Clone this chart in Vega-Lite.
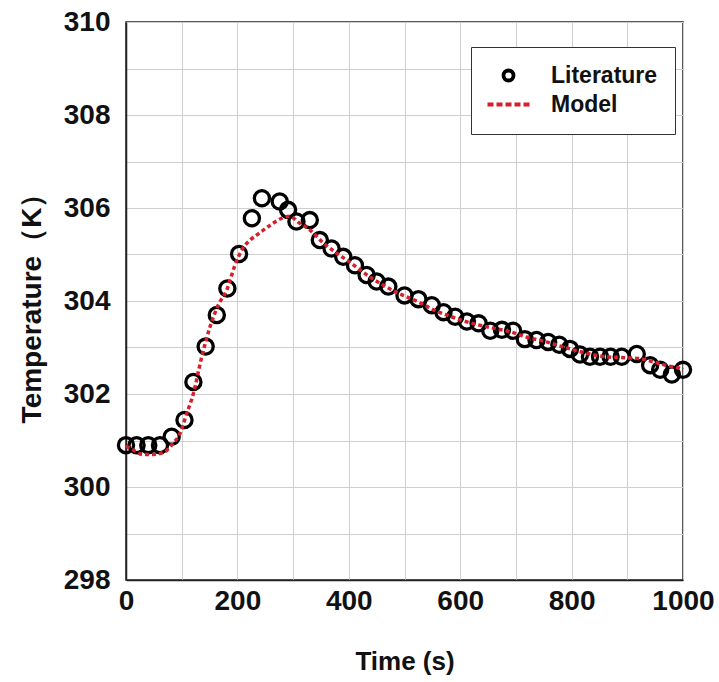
{
  "$schema": "https://vega.github.io/schema/vega-lite/v6.json",
  "width": 557,
  "height": 558,
  "autosize": "none",
  "padding": {"left": 126, "top": 22, "right": 36, "bottom": 102},
  "background": "white",
  "config": {
    "font": "Liberation Sans",
    "view": {"stroke": "#222", "strokeWidth": 1.5},
    "axis": {
      "labelFont": "Liberation Sans",
      "labelFontWeight": "bold",
      "labelFontSize": 28,
      "labelColor": "#111",
      "titleFont": "Liberation Sans",
      "titleFontWeight": "bold",
      "titleFontSize": 26,
      "titleColor": "#111",
      "gridColor": "#cfcfcf",
      "gridWidth": 1,
      "gridOpacity": 1,
      "ticks": false,
      "domainColor": "#222",
      "domainWidth": 1.5
    },
    "legend": {
      "labelFont": "Liberation Sans",
      "labelFontWeight": "bold",
      "labelFontSize": 23,
      "labelColor": "#111"
    }
  },
  "datasets": {
    "literature": [
      {"series": "Literature", "t": 0, "T": 300.90}, {"series": "Literature", "t": 19, "T": 300.90},
      {"series": "Literature", "t": 40, "T": 300.90}, {"series": "Literature", "t": 61, "T": 300.90},
      {"series": "Literature", "t": 82, "T": 301.08}, {"series": "Literature", "t": 105, "T": 301.44},
      {"series": "Literature", "t": 121, "T": 302.26}, {"series": "Literature", "t": 143, "T": 303.02},
      {"series": "Literature", "t": 163, "T": 303.70}, {"series": "Literature", "t": 182, "T": 304.27},
      {"series": "Literature", "t": 203, "T": 305.01}, {"series": "Literature", "t": 226, "T": 305.78},
      {"series": "Literature", "t": 244, "T": 306.21}, {"series": "Literature", "t": 276, "T": 306.14},
      {"series": "Literature", "t": 291, "T": 305.96}, {"series": "Literature", "t": 306, "T": 305.71},
      {"series": "Literature", "t": 330, "T": 305.74}, {"series": "Literature", "t": 348, "T": 305.31},
      {"series": "Literature", "t": 369, "T": 305.13}, {"series": "Literature", "t": 390, "T": 304.95},
      {"series": "Literature", "t": 411, "T": 304.77}, {"series": "Literature", "t": 432, "T": 304.56},
      {"series": "Literature", "t": 450, "T": 304.42}, {"series": "Literature", "t": 471, "T": 304.31},
      {"series": "Literature", "t": 500, "T": 304.12}, {"series": "Literature", "t": 525, "T": 304.04},
      {"series": "Literature", "t": 549, "T": 303.91}, {"series": "Literature", "t": 570, "T": 303.76},
      {"series": "Literature", "t": 591, "T": 303.66}, {"series": "Literature", "t": 612, "T": 303.56},
      {"series": "Literature", "t": 633, "T": 303.52}, {"series": "Literature", "t": 654, "T": 303.36},
      {"series": "Literature", "t": 675, "T": 303.38}, {"series": "Literature", "t": 695, "T": 303.36},
      {"series": "Literature", "t": 716, "T": 303.18}, {"series": "Literature", "t": 737, "T": 303.16},
      {"series": "Literature", "t": 758, "T": 303.12}, {"series": "Literature", "t": 778, "T": 303.06},
      {"series": "Literature", "t": 797, "T": 302.97}, {"series": "Literature", "t": 815, "T": 302.85},
      {"series": "Literature", "t": 833, "T": 302.80}, {"series": "Literature", "t": 851, "T": 302.80},
      {"series": "Literature", "t": 870, "T": 302.80}, {"series": "Literature", "t": 890, "T": 302.80},
      {"series": "Literature", "t": 917, "T": 302.86}, {"series": "Literature", "t": 941, "T": 302.62},
      {"series": "Literature", "t": 959, "T": 302.52}, {"series": "Literature", "t": 980, "T": 302.42},
      {"series": "Literature", "t": 1000, "T": 302.52}
    ],
    "model": [
      {"t": 0, "T": 300.88}, {"t": 15, "T": 300.78}, {"t": 30, "T": 300.70}, {"t": 50, "T": 300.70},
      {"t": 70, "T": 300.76}, {"t": 85, "T": 300.95}, {"t": 95, "T": 301.10}, {"t": 109, "T": 301.58},
      {"t": 121, "T": 302.01}, {"t": 135, "T": 302.75}, {"t": 151, "T": 303.45}, {"t": 165, "T": 303.90},
      {"t": 181, "T": 304.24}, {"t": 195, "T": 304.75}, {"t": 208, "T": 305.10}, {"t": 222, "T": 305.30},
      {"t": 235, "T": 305.42}, {"t": 259, "T": 305.63}, {"t": 280, "T": 305.78}, {"t": 294, "T": 305.82},
      {"t": 312, "T": 305.67}, {"t": 330, "T": 305.53}, {"t": 354, "T": 305.25}, {"t": 378, "T": 305.03},
      {"t": 400, "T": 304.85}, {"t": 420, "T": 304.67}, {"t": 440, "T": 304.50}, {"t": 462, "T": 304.34},
      {"t": 483, "T": 304.20}, {"t": 504, "T": 304.09}, {"t": 530, "T": 303.95}, {"t": 552, "T": 303.81},
      {"t": 580, "T": 303.68}, {"t": 612, "T": 303.55}, {"t": 650, "T": 303.44}, {"t": 689, "T": 303.34},
      {"t": 720, "T": 303.22}, {"t": 755, "T": 303.12}, {"t": 780, "T": 303.03}, {"t": 803, "T": 302.95},
      {"t": 833, "T": 302.86}, {"t": 863, "T": 302.80}, {"t": 893, "T": 302.78}, {"t": 923, "T": 302.76},
      {"t": 950, "T": 302.68}, {"t": 975, "T": 302.60}, {"t": 995, "T": 302.55}, {"t": 1000, "T": 302.52}
    ]
  },
  "encoding": {
    "x": {
      "field": "t",
      "type": "quantitative",
      "scale": {"domain": [0, 1000], "nice": false},
      "axis": {
        "title": "Time (s)",
        "format": "d",
        "values": [0, 100, 200, 300, 400, 500, 600, 700, 800, 900, 1000],
        "labelExpr": "datum.value % 200 === 0 ? datum.label : ''",
        "labelPadding": 7,
        "titlePadding": 33,
        "labelFlush": false,
        "labelOverlap": false
      }
    },
    "y": {
      "field": "T",
      "type": "quantitative",
      "scale": {"domain": [298, 310], "nice": false, "zero": false},
      "axis": {
        "title": "Temperature（K）",
        "titleFontSize": 28,
        "format": "d",
        "values": [298, 299, 300, 301, 302, 303, 304, 305, 306, 307, 308, 309, 310],
        "labelExpr": "datum.value % 2 === 0 ? datum.label : ''",
        "labelPadding": 16,
        "titlePadding": 17,
        "labelFlush": false,
        "labelOverlap": false
      }
    }
  },
  "layer": [
    {
      "data": {"name": "literature"},
      "mark": {"type": "point", "filled": false, "size": 230, "strokeWidth": 3.3, "opacity": 1},
      "encoding": {
        "shape": {
          "field": "series",
          "type": "nominal",
          "scale": {
            "domain": ["Literature", "Model"],
            "range": ["circle", "M-4.2,0H-3M-2.4,0H-1.2M-0.6,0H0.6M1.2,0H2.4M3,0H4.2"]
          },
          "legend": {
            "title": null,
            "orient": "none",
            "legendX": 345,
            "legendY": 25,
            "strokeColor": "#333",
            "fillColor": "white",
            "padding": 17,
            "rowPadding": 4,
            "symbolSize": 100,
            "symbolStrokeWidth": 3.8,
            "symbolOffset": 9,
            "labelOffset": 31
          }
        },
        "stroke": {
          "field": "series",
          "type": "nominal",
          "scale": {"domain": ["Literature", "Model"], "range": ["#000000", "#d61f2b"]},
          "legend": {
            "title": null,
            "orient": "none",
            "legendX": 345,
            "legendY": 25,
            "strokeColor": "#333",
            "fillColor": "white",
            "padding": 17,
            "rowPadding": 4,
            "symbolSize": 100,
            "symbolStrokeWidth": 3.8,
            "symbolOffset": 9,
            "labelOffset": 31
          }
        }
      }
    },
    {
      "data": {"name": "model"},
      "mark": {
        "type": "line",
        "color": "#d61f2b",
        "strokeWidth": 3.5,
        "strokeDash": [4, 3],
        "interpolate": "monotone"
      },
      "encoding": {}
    }
  ]
}
